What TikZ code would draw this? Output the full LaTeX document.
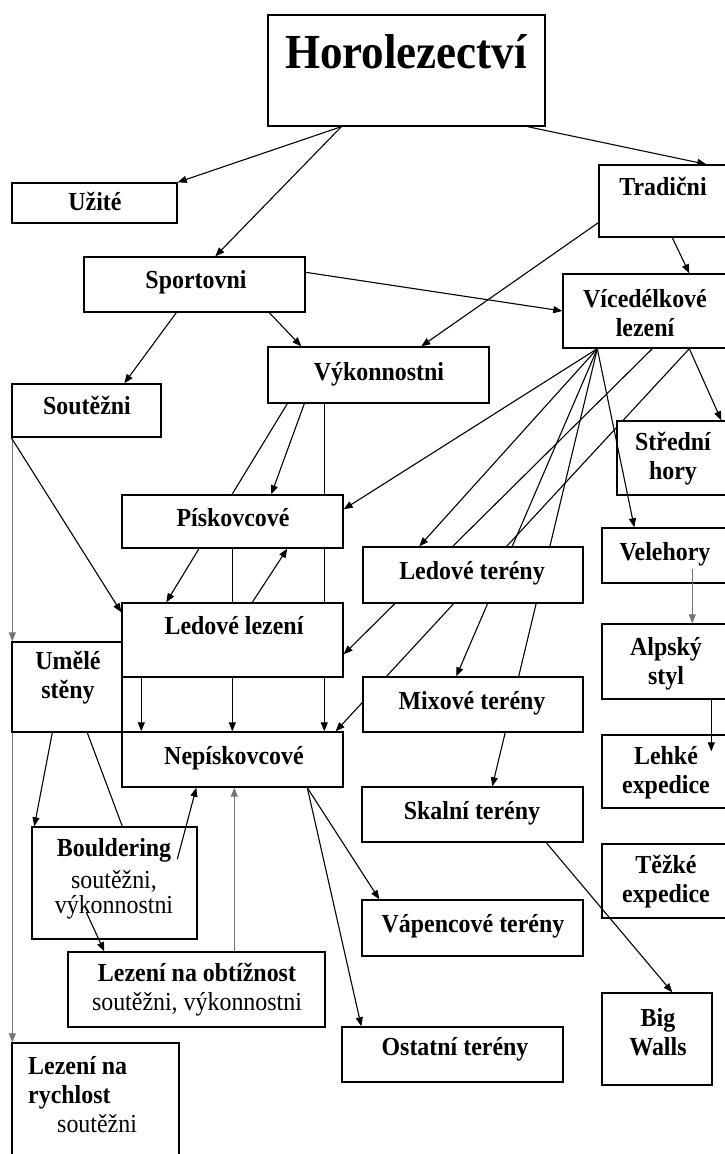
\documentclass[tikz,border=0pt]{standalone}
\usepackage{fontspec}
\setmainfont[FakeStretch=0.92]{Liberation Serif}
\usetikzlibrary{arrows.meta,calc,backgrounds}
\newcommand\bx[5]{%
  \pgfmathsetmacro\bxw{#4-#2}\pgfmathsetmacro\bxh{#5-#3}%
  \pgfmathsetmacro\bxx{(#2+#4)/2}\pgfmathsetmacro\bxy{(#3+#5)/2}%
  \node[box, minimum width=\bxw pt, minimum height=\bxh pt] (#1) at (\bxx,\bxy) {};}
\begin{document}
\begin{tikzpicture}[x=1pt,y=-1pt,
  box/.style={draw, line width=1.4pt, fill=white, inner sep=0pt},
  lbl/.style={font=\bfseries\fontsize{26}{29}\selectfont, align=center, inner sep=0pt},
  one/.style={text height=18pt, text depth=5pt},
  con/.style={line width=1.1pt, -{Triangle[length=9pt,width=7pt]}},
  plain/.style={line width=1.1pt},
  grey/.style={draw=black!55}]
\useasboundingbox (0,0) rectangle (725,1154);
% boxes
\bx{horo}{268}{15}{545}{126}
\bx{uzite}{12}{183}{177}{223}
\bx{trad}{599}{165}{732}{237}
\bx{sport}{84}{257}{305}{312}
\bx{vice}{563}{274}{732}{348}
\bx{vykon}{268}{347}{489}{403}
\bx{soutez}{12}{384}{161}{437}
\bx{stred}{617}{421}{732}{495}
\bx{pisk}{122}{495}{343}{548}
\bx{vele}{602}{528}{732}{583}
\bx{ledter}{363}{547}{583}{603}
\bx{ledlez}{122}{603}{343}{677}
\bx{umele}{12}{642}{122}{732}
\bx{alp}{602}{624}{732}{699}
\bx{mix}{363}{677}{583}{732}
\bx{nepis}{122}{732}{343}{787}
\bx{lehke}{602}{735}{732}{808}
\bx{skal}{362}{787}{583}{842}
\bx{bould}{32}{827}{197}{939}
\bx{tezke}{602}{844}{732}{918}
\bx{vapen}{362}{900}{583}{956}
\bx{obtiz}{68}{952}{325}{1027}
\bx{big}{602}{993}{712}{1085}
\bx{ostat}{342}{1027}{563}{1082}
\bx{rychl}{12}{1043}{179}{1165}
% texts
\node[lbl, font=\bfseries\fontsize{49}{52}\selectfont, text height=34pt, text depth=0pt] (t-horo) at (406,51) {Horolezectví};
\node[lbl,one] (t-uzite) at (95,204) {Užité};
\node[lbl,one] (t-trad) at (663,189) {Tradični};
\node[lbl,one] (t-sport) at (196,282) {Sportovni};
\node[lbl] (t-vice) at (645,313) {Vícedélkové\\lezení};
\node[lbl,one] (t-vykon) at (379,374) {Výkonnostni};
\node[lbl,one] (t-soutez) at (87,408) {Soutěžni};
\node[lbl] (t-stred) at (673,459) {Střední\\hory};
\node[lbl,one] (t-pisk) at (233,520) {Pískovcové};
\node[lbl,one] (t-vele) at (665,554) {Velehory};
\node[lbl,one] (t-ledter) at (472,573) {Ledové terény};
\node[lbl,one] (t-ledlez) at (234,628) {Ledové lezení};
\node[lbl] (t-umele) at (68,678) {Umělé\\stěny};
\node[lbl] (t-alp) at (666,664) {Alpský\\styl};
\node[lbl,one] (t-mix) at (472,703) {Mixové terény};
\node[lbl,one] (t-nepis) at (234,758) {Nepískovcové};
\node[lbl] (t-lehke) at (666,773) {Lehké\\expedice};
\node[lbl,one] (t-skal) at (472,813) {Skalní terény};
\node[lbl] (t-bould) at (114,879) {Bouldering\\[3pt]{\mdseries soutěžni,}\\[-4pt]{\mdseries výkonnostni}};
\node[lbl] (t-tezke) at (666,882) {Těžké\\expedice};
\node[lbl,one] (t-vapen) at (473,926) {Vápencové terény};
\node[lbl] (t-obtiz) at (197,990) {Lezení na obtížnost\\{\mdseries soutěžni, výkonnostni}};
\node[lbl] (t-big) at (658,1032) {Big\\Walls};
\node[lbl,one] (t-ostat) at (455,1049) {Ostatní terény};
\node[lbl, align=left, anchor=north west] (t-rychl) at (28,1056) {Lezení na\\rychlost\\\hspace*{29pt}{\mdseries soutěžni}};
% connectors behind boxes
\begin{pgfonlayer}{background}
\fill[white] (0,0) rectangle (725,1154);
\draw[con] ($(horo.south west)+(74,0)$) -- (uzite.north east);
\draw[con] ($(horo.south west)+(74,0)$) -- ($(sport.north west)+(132,0)$);
\draw[con] ($(horo.south east)+(-18,0)$) -- ($(trad.north west)+(108,0)$);
\draw[con] ($(trad.south west)+(0,-15)$) -- ($(vykon.north west)+(154,0)$);
\draw[con] ($(trad.south west)+(74,0)$) -- ($(vice.north west)+(127,0)$);
\draw[con] ($(sport.north east)+(0,16)$) -- (vice.west);
\draw[con] ($(sport.south west)+(93,0)$) -- ($(soutez.north west)+(113,0)$);
\draw[con] ($(sport.south west)+(186,0)$) -- ($(vykon.north west)+(34,0)$);
\draw[con,grey] ($(soutez.south west)+(1,0)$) -- ($(umele.north west)+(1,0)$);
\draw[con] (soutez.south west) -- ($(ledlez.north west)+(0,10)$);
\draw[con,grey] ($(umele.south west)+(1,0)$) -- ($(rychl.north west)+(1,0)$);
\draw[con] ($(umele.south west)+(41,0)$) -- ($(bould.north west)+(3,0)$);
\draw[plain] ($(umele.south west)+(76,0)$) -- ($(bould.north west)+(91,0)$);
\draw[con] ($(vykon.south west)+(20,0)$) -- ($(ledlez.north west)+(45,0)$);
\draw[con] ($(vykon.south west)+(37,0)$) -- ($(pisk.north west)+(150,0)$);
\draw[con] ($(vykon.south west)+(57,0)$) -- ($(nepis.north west)+(203,0)$);
\draw[con] ($(pisk.south west)+(111,0)$) -- ($(nepis.north west)+(111,0)$);
\draw[con] ($(ledlez.north west)+(131,0)$) -- ($(pisk.south west)+(166,0)$);
\draw[con] ($(ledlez.south west)+(20,0)$) -- ($(nepis.north west)+(20,0)$);
\coordinate (hub) at ($(vice.south west)+(35,0)$);
\draw[con] (hub) -- ($(pisk.north east)+(0,15)$);
\draw[con] (hub) -- ($(ledter.north west)+(57,0)$);
\draw[con] (hub) -- ($(mix.north west)+(94,0)$);
\draw[con] (hub) -- ($(skal.north west)+(131,0)$);
\draw[con] ($(vice.south west)+(90,0)$) -- ($(ledlez.north east)+(0,52)$);
\draw[con] ($(vice.south west)+(127,0)$) -- ($(nepis.north east)+(-8,0)$);
\draw[con] ($(vice.south west)+(127,0)$) -- ($(stred.north west)+(105,0)$);
\draw[con] ($(nepis.south west)+(186,0)$) -- ($(vapen.north west)+(18,0)$);
\draw[con] ($(nepis.south west)+(186,0)$) -- ($(ostat.north west)+(20,0)$);
\draw[con,grey] ($(obtiz.north west)+(167,0)$) -- ($(nepis.south west)+(113,0)$);
\end{pgfonlayer}
% connectors drawn over boxes
\draw[con] (hub) -- ($(vele.north west)+(33,0)$);
\draw[con,grey] ($(vele.south west)+(91,-15)$) -- ($(alp.north west)+(91,0)$);
\draw[con] ($(alp.south west)+(110,0)$) -- ($(lehke.north west)+(110,17)$);
\draw[con] ($(skal.south west)+(185,0)$) -- ($(big.north west)+(71,0)$);
\draw[con] ($(bould.north west)+(146,33)$) -- ($(nepis.south west)+(75,0)$);
\draw[con] ($(bould.north west)+(55,86)$) -- ($(obtiz.north west)+(37,0)$);
\end{tikzpicture}
\end{document}
